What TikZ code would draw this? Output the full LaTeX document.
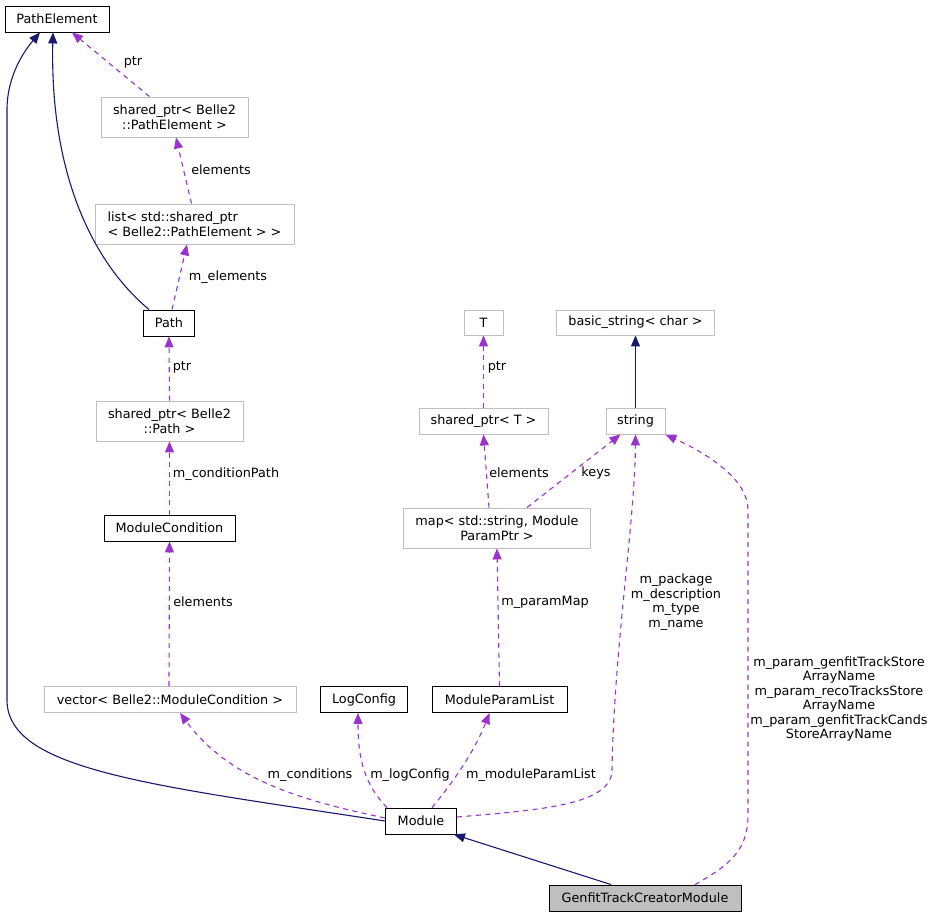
\documentclass[tikz,border=0pt]{standalone}
\usepackage{fontspec}
\setmainfont{DejaVu Sans}
\usetikzlibrary{arrows.meta,calc}
\definecolor{navyc}{HTML}{191970}
\definecolor{purpc}{HTML}{9A32CD}
\definecolor{boxgray}{HTML}{BFBFBF}
\tikzset{
  txt/.style={font=\fontsize{12.8}{14.5}\selectfont},
  box/.style={txt, draw=black, fill=white, line width=0.9pt, inner sep=0pt, align=center},
  gbox/.style={box, draw=boxgray},
  inh/.style={draw=navyc, line width=1.1pt, -{Triangle[length=11pt,width=9pt]}},
  usedash/.style={draw=purpc, line width=1.1pt, dash pattern=on 5pt off 4.5pt, -{Triangle[length=11pt,width=9pt]}},
  lbl/.style={txt, inner sep=0pt, align=center},
}
\begin{document}
\begin{tikzpicture}[x=1pt,y=-1pt]
\useasboundingbox[fill=white] (0,0) rectangle (936,917);
% nodes
\node[box, minimum width=104, minimum height=26] (pe) at (57,19) {PathElement};
\node[gbox, minimum width=147, minimum height=40] (spe) at (174.5,117) {shared\_ptr< Belle2\\::PathElement >};
\node[gbox, minimum width=199, minimum height=40, align=left] (lst) at (194.5,224) {list< std::shared\_ptr\\< Belle2::PathElement > >};
\node[box, minimum width=51, minimum height=26] (path) at (169,323) {Path};
\node[gbox, minimum width=147, minimum height=40] (sp) at (169.5,421) {shared\_ptr< Belle2\\::Path >};
\node[box, minimum width=131, minimum height=26] (mc) at (169.5,528) {ModuleCondition};
\node[gbox, minimum width=252, minimum height=26] (vec) at (170,699.5) {vector< Belle2::ModuleCondition >};
\node[box, minimum width=87, minimum height=26] (log) at (364,699.5) {LogConfig};
\node[box, minimum width=135, minimum height=26] (mpl) at (499.5,699.5) {ModuleParamList};
\node[box, minimum width=71, minimum height=26] (mod) at (421,821) {Module};
\node[box, fill=boxgray, minimum width=192, minimum height=26] (gen) at (645,898) {GenfitTrackCreatorModule};
\node[gbox, minimum width=39, minimum height=25] (T) at (483.5,322.5) {T};
\node[gbox, minimum width=158, minimum height=25] (bs) at (635.5,322.5) {basic\_string< char >};
\node[gbox, minimum width=129, minimum height=26] (spt) at (483.5,421) {shared\_ptr< T >};
\node[gbox, minimum width=59, minimum height=26] (str) at (635.5,421) {string};
\node[gbox, minimum width=187, minimum height=40] (map) at (497,528) {map< std::string, Module\\ParamPtr >};

% inheritance edges
\draw[inh] (mod.west) .. controls (150,785) and (7,770) .. (7,700) -- (7,110) .. controls (7,75) and (25,50) .. ([xshift=-17pt]pe.south);
\draw[inh] ([xshift=-20pt]path.north) .. controls (90,260) and (50,170) .. ([xshift=-4pt]pe.south);
\draw[inh] (str.north) -- (bs.south);
\draw[inh] ([xshift=-34pt]gen.north) -- ([xshift=-3pt]mod.south east);

% usage edges
\draw[usedash] ([xshift=-25pt]spe.north) -- ([xshift=15pt]pe.south);
\node[lbl] (l1) at (133,62) {ptr};
\draw[usedash] ([xshift=-3pt]lst.north) -- ([xshift=1.5pt]spe.south);
\node[lbl] (l2) at (221,170) {elements};
\draw[usedash] ([xshift=3pt]path.north) -- ([xshift=-7.5pt]lst.south);
\node[lbl] (l3) at (228,277) {m\_elements};
\draw[usedash] (sp.north) -- (path.south);
\node[lbl] (l4) at (182,367) {ptr};
\draw[usedash] (mc.north) -- (sp.south);
\node[lbl] (l5) at (226,474) {m\_conditionPath};
\draw[usedash] ([xshift=-1pt]vec.north) -- (mc.south);
\node[lbl] (l6) at (203,602) {elements};

\draw[usedash] (spt.north) -- (T.south);
\node[lbl] (l7) at (497,367) {ptr};
\draw[usedash] ([xshift=-8pt]map.north) -- (spt.south);
\node[lbl] (l8) at (519,473) {elements};
\draw[usedash] ([xshift=30pt]map.north) -- ([xshift=-15pt]str.south);
\node[lbl] (l9) at (596,473) {keys};
\draw[usedash] (mpl.north) -- (map.south);
\node[lbl] (l10) at (545,602) {m\_paramMap};

\draw[usedash] ([yshift=3pt]mod.west) .. controls (300,800) and (230,780) .. ([xshift=10pt]vec.south);
\node[lbl] (l11) at (310,775) {m\_conditions};
\draw[usedash] ([xshift=2pt]mod.north west) .. controls (365,785) and (358,760) .. ([xshift=-6pt]log.south);
\node[lbl] (l12) at (410,775) {m\_logConfig};
\draw[usedash] ([xshift=11pt]mod.north) .. controls (455,780) and (475,750) .. ([xshift=-10pt]mpl.south);
\node[lbl] (l13) at (531,775) {m\_moduleParamList};

\draw[usedash] ([yshift=4pt]mod.east) .. controls (540,810) and (612,805) .. (612,770) .. controls (614,650) and (635,520) .. (str.south);
\node[lbl] (l14) at (676,602) {m\_package\\m\_description\\m\_type\\m\_name};

\draw[usedash] ([xshift=50pt]gen.north) .. controls (730,865) and (748,850) .. (748,815) -- (748,510) .. controls (748,480) and (710,455) .. (str.south east);
\node[lbl] (l15) at (839,699) {m\_param\_genfitTrackStore\\ArrayName\\m\_param\_recoTracksStore\\ArrayName\\m\_param\_genfitTrackCands\\StoreArrayName};
\end{tikzpicture}
\end{document}
